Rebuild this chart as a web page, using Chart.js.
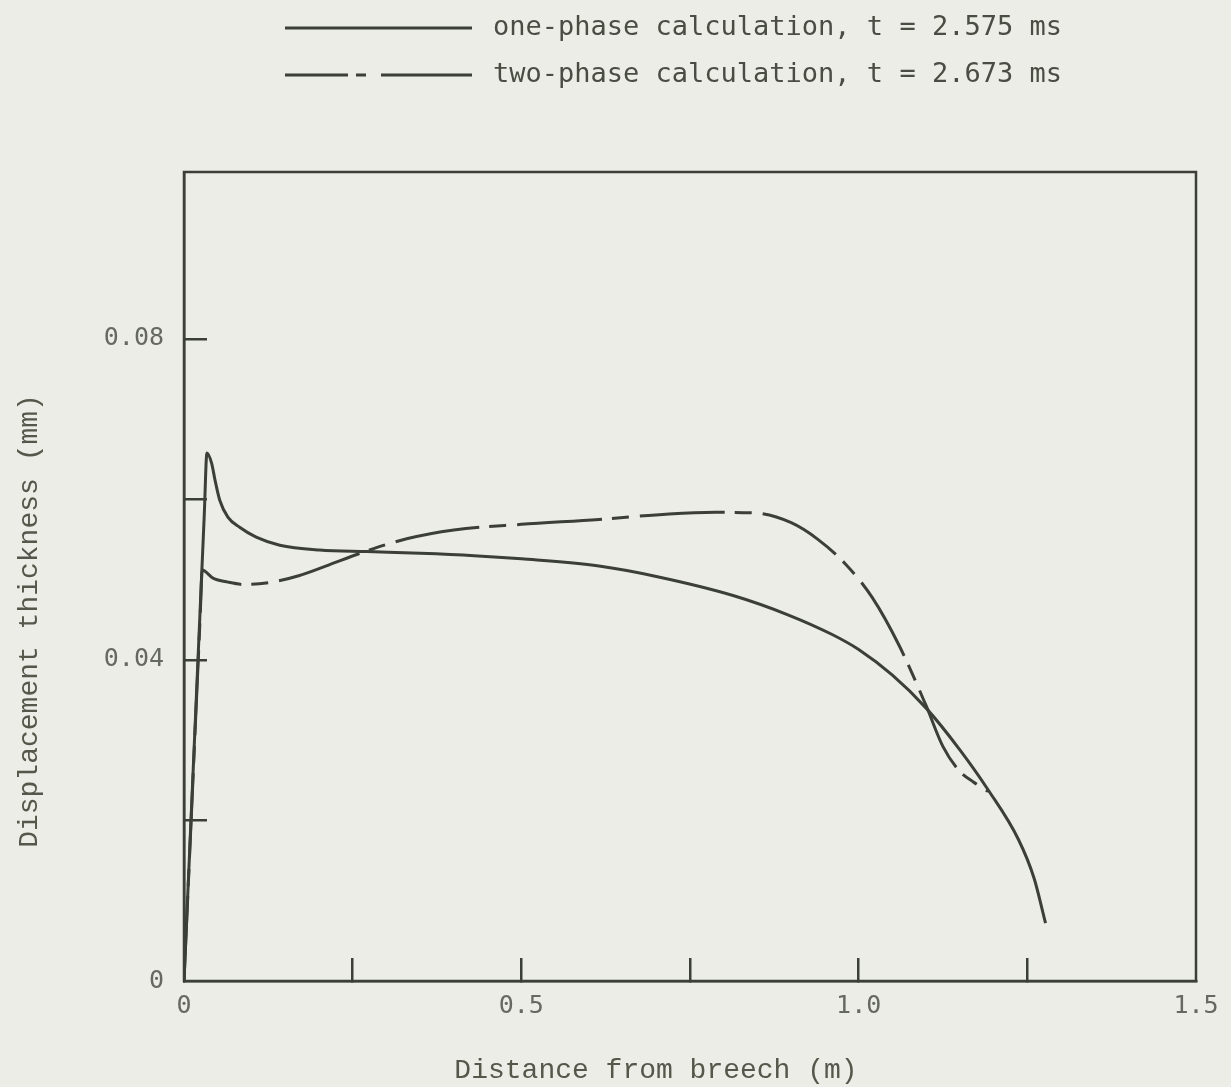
<!DOCTYPE html>
<html>
<head>
<meta charset="utf-8">
<script src="https://cdn.jsdelivr.net/npm/chart.js@4.4.1/dist/chart.umd.min.js"></script>
<style>
  html, body { margin: 0; padding: 0; background: #ecede6; }
</style>
</head>
<body>
<canvas id="chart" width="1231" height="1087"></canvas>
<script>
// distance from breech (m) vs displacement thickness (mm)
const onePhaseX = [0, 0.030, 0.034, 0.041, 0.046, 0.053, 0.065, 0.083, 0.107, 0.142, 0.201, 0.271, 0.350, 0.430,
  0.500, 0.615, 0.700, 0.815, 0.896, 0.960, 1.000, 1.050, 1.100, 1.150, 1.192, 1.237, 1.260, 1.277];
const onePhaseY = [0, 0.0580, 0.0658, 0.0645, 0.0624, 0.0599, 0.0578, 0.0565, 0.0553, 0.0543, 0.0537, 0.0535, 0.0533, 0.0530,
  0.0526, 0.0517, 0.0504, 0.0480, 0.0456, 0.0432, 0.0413, 0.0381, 0.0340, 0.0288, 0.0238, 0.0176, 0.0128, 0.0072];

const twoPhaseX = [0, 0.024, 0.027, 0.043, 0.065, 0.090, 0.130, 0.170, 0.210, 0.268, 0.330, 0.400, 0.500, 0.615,
  0.719, 0.788, 0.848, 0.900, 0.940, 0.980, 1.020, 1.060, 1.100, 1.125, 1.150, 1.170, 1.192];
const twoPhaseY = [0, 0.0455, 0.0512, 0.0502, 0.0497, 0.0494, 0.0497, 0.0505, 0.0517, 0.0535, 0.0551, 0.0562, 0.0569, 0.0575,
  0.0582, 0.0584, 0.0583, 0.0571, 0.0550, 0.0520, 0.0478, 0.0418, 0.0343, 0.0292, 0.0261, 0.0248, 0.0236];

const seriesLabels = ['one-phase calculation, t = 2.575 ms', 'two-phase calculation, t = 2.673 ms'];

const xLabelValues = [0, 0.5, 1.0, 1.5];
const xLabelText = ['0', '0.5', '1.0', '1.5'];
const yLabelValues = [0, 0.04, 0.08];
const yLabelText = ['0', '0.04', '0.08'];
const xTickMarks = [0.25, 0.5, 0.75, 1.0, 1.25];
const yTickMarks = [0.02, 0.04, 0.06, 0.08];

const xTitle = 'Distance from breech (m)';
const yTitle = 'Displacement thickness (mm)';

const ink = '#3b3f38';
const paperColor = '#ecede6';
const curveDash = [85, 10, 17, 11];
const tickFont = { family: '"DejaVu Sans Mono", monospace', size: 25 };

function pairs(xs, ys) {
  return xs.map((x, i) => ({ x: x, y: ys[i] }));
}

function indexNear(list, v) {
  return list.findIndex(a => Math.abs(a - v) < 1e-6);
}

function noEdgePadding(s) {
  s.paddingLeft = 0;
  s.paddingRight = 0;
  s.paddingTop = 0;
  s.paddingBottom = 0;
}

// background, frame, axis titles and the key above the plot
const paper = {
  id: 'paper',
  beforeDraw(chart) {
    const ctx = chart.ctx;
    ctx.save();
    ctx.fillStyle = paperColor;
    ctx.fillRect(0, 0, chart.width, chart.height);
    ctx.restore();
  },
  afterDraw(chart) {
    const ctx = chart.ctx;
    const a = chart.chartArea;
    ctx.save();
    ctx.strokeStyle = ink;
    ctx.lineWidth = 2.5;
    ctx.strokeRect(a.left, a.top, a.right - a.left, a.bottom - a.top);

    ctx.fillStyle = '#54574a';
    ctx.font = '28px "Liberation Mono", monospace';
    ctx.textAlign = 'center';
    ctx.textBaseline = 'middle';
    ctx.fillText(xTitle, 656, 1071);
    ctx.save();
    ctx.translate(30, 621);
    ctx.rotate(-Math.PI / 2);
    ctx.fillText(yTitle, 0, 0);
    ctx.restore();

    // key
    const rows = [28, 75];
    ctx.lineWidth = 3;
    ctx.strokeStyle = ink;
    rows.forEach((y, i) => {
      ctx.setLineDash(i === 0 ? [] : [63, 8, 10, 15, 200]);
      ctx.beginPath();
      ctx.moveTo(285, y);
      ctx.lineTo(472, y);
      ctx.stroke();
    });
    ctx.setLineDash([]);
    ctx.fillStyle = '#4a4d44';
    ctx.font = '27px "DejaVu Sans Mono", monospace';
    ctx.textAlign = 'left';
    rows.forEach((y, i) => ctx.fillText(seriesLabels[i], 493, y));
    ctx.restore();
  }
};

new Chart(document.getElementById('chart'), {
  type: 'line',
  data: {
    datasets: [
      {
        label: seriesLabels[0],
        data: pairs(onePhaseX, onePhaseY),
        borderColor: ink,
        borderWidth: 3,
        pointRadius: 0,
        cubicInterpolationMode: 'monotone',
        fill: false
      },
      {
        label: seriesLabels[1],
        data: pairs(twoPhaseX, twoPhaseY),
        borderColor: ink,
        borderWidth: 3,
        borderDash: curveDash,
        pointRadius: 0,
        cubicInterpolationMode: 'monotone',
        fill: false
      }
    ]
  },
  options: {
    responsive: false,
    animation: false,
    devicePixelRatio: 1,
    layout: { padding: { top: 172, right: 35, left: 0, bottom: 0 } },
    plugins: {
      legend: { display: false },
      tooltip: { enabled: false }
    },
    scales: {
      x: {
        type: 'linear',
        min: 0,
        max: 1.5,
        afterFit: s => { s.height = 106; noEdgePadding(s); },
        ticks: {
          stepSize: 0.25,
          autoSkip: false,
          maxRotation: 0,
          padding: 33,
          color: '#666961',
          font: tickFont,
          callback: v => {
            const i = indexNear(xLabelValues, v);
            return i < 0 ? '' : xLabelText[i];
          }
        },
        grid: {
          drawOnChartArea: false,
          tickLength: -23,
          lineWidth: 2.5,
          color: c => indexNear(xTickMarks, c.tick.value) < 0 ? 'rgba(0,0,0,0)' : ink
        },
        border: { color: ink, width: 2.5 }
      },
      y: {
        type: 'linear',
        min: 0,
        max: 0.1008,
        afterFit: s => { s.width = 184; noEdgePadding(s); },
        afterBuildTicks: s => { s.ticks = s.ticks.filter(t => t.value <= 0.1 + 1e-9); },
        ticks: {
          stepSize: 0.02,
          autoSkip: false,
          padding: 43,
          color: '#666961',
          font: tickFont,
          callback: v => {
            const i = indexNear(yLabelValues, v);
            return i < 0 ? '' : yLabelText[i];
          }
        },
        grid: {
          drawOnChartArea: false,
          tickLength: -23,
          lineWidth: 2.5,
          color: c => indexNear(yTickMarks, c.tick.value) < 0 ? 'rgba(0,0,0,0)' : ink
        },
        border: { color: ink, width: 2.5 }
      }
    }
  },
  plugins: [paper]
});
</script>
</body>
</html>
